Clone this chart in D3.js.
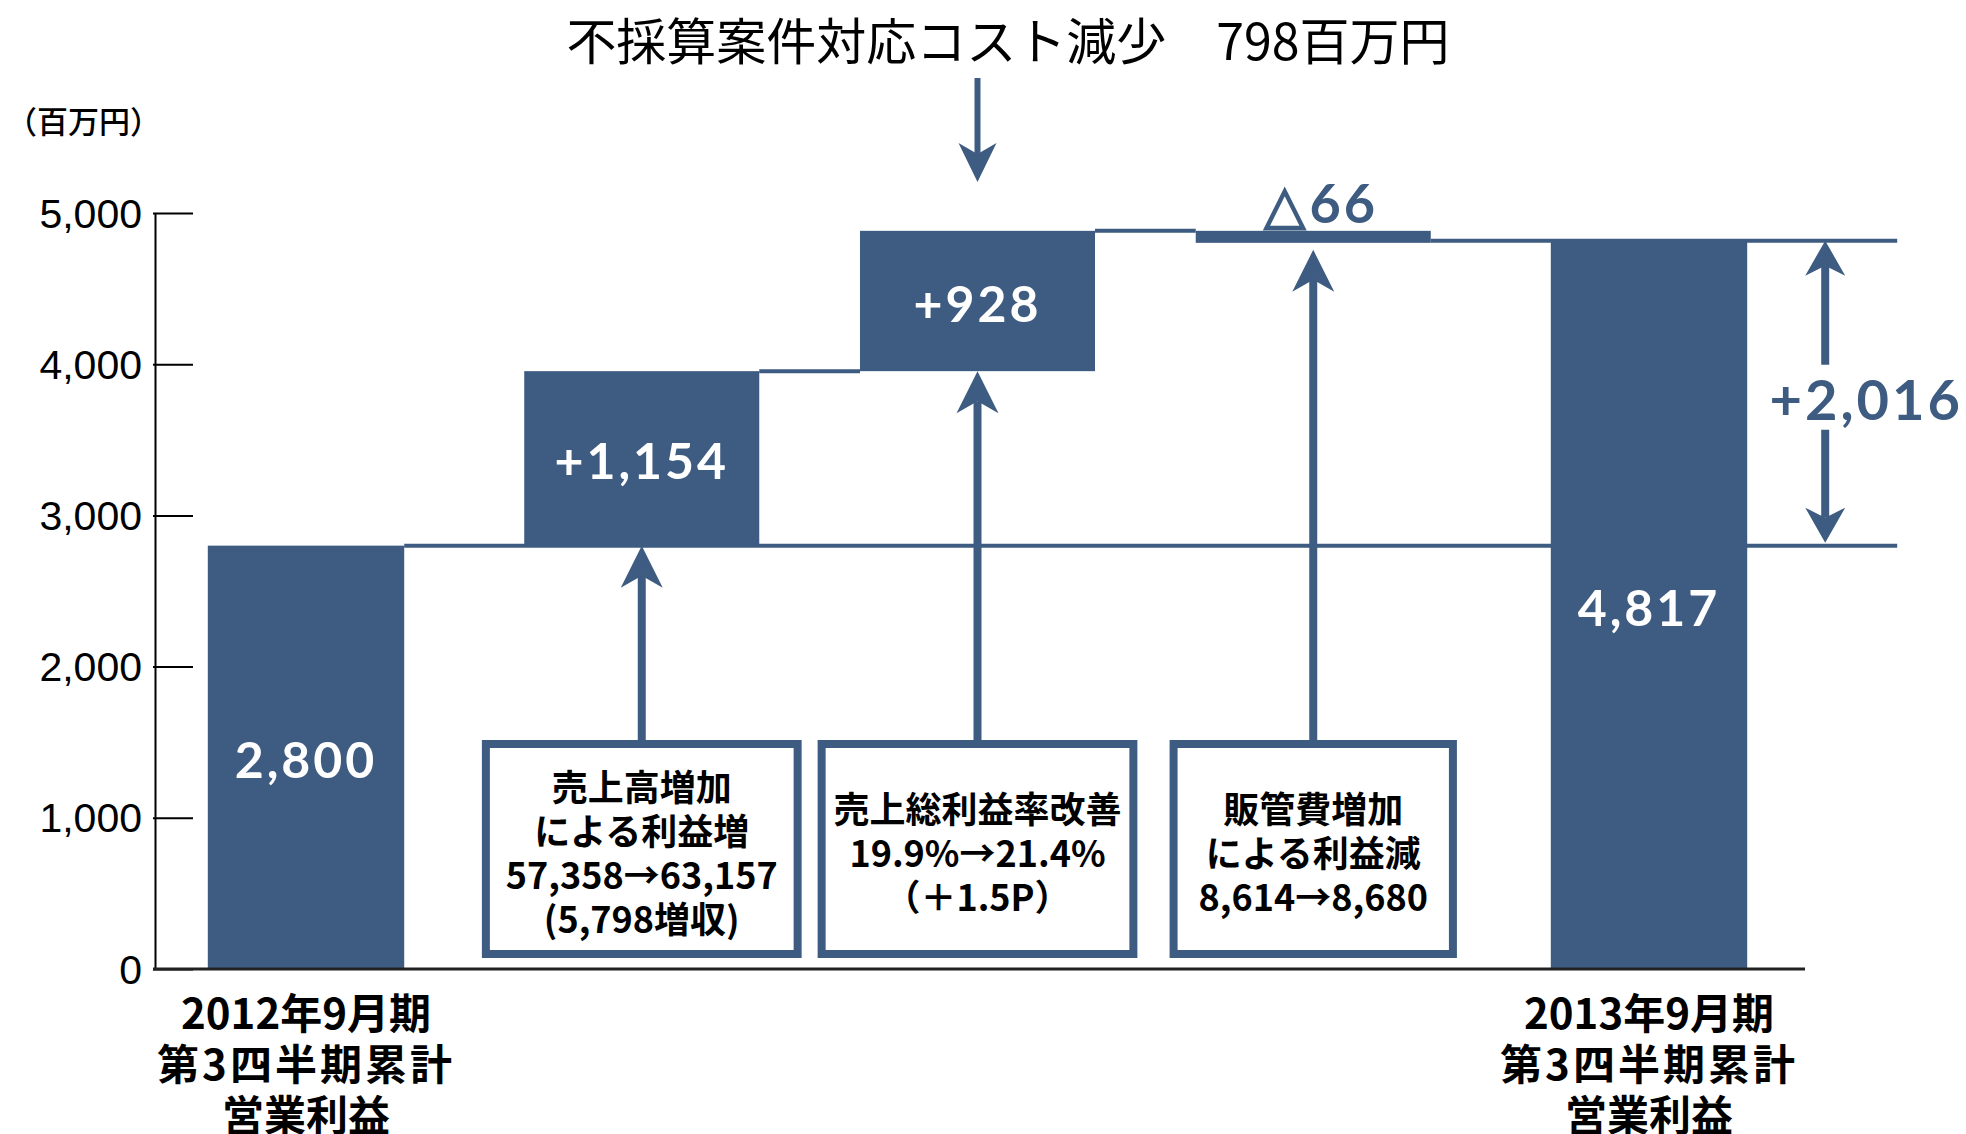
<!DOCTYPE html>
<html>
<head>
<meta charset="utf-8">
<script src="https://cdn.jsdelivr.net/npm/d3@7"></script>
<style>
  html,body { margin:0; padding:0; background:#fff; }
  svg { display:block; }
</style>
</head>
<body>
<svg id="chart" width="1966" height="1134"></svg>
<script>

// ---- data ----
const categories  = ['2012Q3', 'sales', 'margin', 'sga', '2013Q3'];
const values      = [2800, 1154, 928, -66, 4817];   // first and last are totals
const isTotal     = [true, false, false, false, true];
const barLabels   = ['2,800', '+1,154', '+928', '△66', '4,817'];
const totalLabels = [
  ['2012年9月期', '第3四半期累計', '営業利益'],
  null, null, null,
  ['2013年9月期', '第3四半期累計', '営業利益']
];
const reasonLines = [
  null,
  ['売上高増加', 'による利益増', '57,358→63,157', '(5,798増収)'],
  ['売上総利益率改善', '19.9%→21.4%', '（＋1.5P）'],
  ['販管費増加', 'による利益減', '8,614→8,680'],
  null
];
const yTicks    = [0, 1000, 2000, 3000, 4000, 5000];
const unitLabel = '（百万円）';
const topNote   = '不採算案件対応コスト減少　798百万円';
const diffLabel = '+2,016';

// ---- layout ----
const BLUE = '#3e5c81';
const JP = '"Noto Sans CJK JP", "Noto Sans", sans-serif';
const NUM = 'Lato, "Open Sans", sans-serif';

const svg = d3.select('#chart');

const y = d3.scaleLinear().domain([0, 5000]).range([969, 213]);
const x = d3.scalePoint().domain(categories).range([306, 1649]);
const step = x.step();

// running start / end for each bar
let run = 0;
const bars = categories.map((c, i) => {
  let s, e;
  if (isTotal[i]) { s = 0; e = values[i]; }
  else { s = run; e = run + values[i]; }
  run = e;
  const w = isTotal[i] ? step * 0.585 : step * 0.70;
  return { cat: c, i: i, start: s, end: e, w: w, cx: x(c) };
});

const upHead = (cx, tip, w, len, notch) =>
  `M${cx},${tip} L${cx + w / 2},${tip + len} L${cx},${tip + notch} L${cx - w / 2},${tip + len} Z`;
const downHead = (cx, tip, w, len, notch) =>
  `M${cx},${tip} L${cx + w / 2},${tip - len} L${cx},${tip - notch} L${cx - w / 2},${tip - len} Z`;

const lines = svg.append('g');
const first = bars[0], last = bars[bars.length - 1];
const refRight = last.cx + last.w / 2 + 150;

// level lines behind the bars
lines.append('line')
  .attr('x1', first.cx + first.w / 2).attr('x2', refRight)
  .attr('y1', y(first.end)).attr('y2', y(first.end))
  .attr('stroke', BLUE).attr('stroke-width', 4);
lines.append('line')
  .attr('x1', bars[3].cx + bars[3].w / 2).attr('x2', refRight)
  .attr('y1', y(last.end)).attr('y2', y(last.end))
  .attr('stroke', BLUE).attr('stroke-width', 4);

// step connectors
lines.selectAll('line.conn').data(bars.slice(1, 3))
  .join('line').attr('class', 'conn')
  .attr('x1', d => d.cx + d.w / 2)
  .attr('x2', d => bars[d.i + 1].cx - bars[d.i + 1].w / 2)
  .attr('y1', d => y(d.end)).attr('y2', d => y(d.end))
  .attr('stroke', BLUE).attr('stroke-width', 4);

// bars
svg.append('g').selectAll('rect').data(bars)
  .join('rect')
  .attr('x', d => d.cx - d.w / 2)
  .attr('width', d => d.w)
  .attr('y', d => y(Math.max(d.start, d.end)))
  .attr('height', d => Math.max(Math.abs(y(d.start) - y(d.end)), 12))
  .attr('fill', BLUE);

// bar labels
svg.append('g').selectAll('text').data(bars)
  .join('text')
  .attr('x', d => d.end < d.start ? d.cx + 8 : d.cx)
  .attr('y', d => d.end < d.start ? y(d.start) - 28 : (y(d.start) + y(d.end)) / 2 + 2)
  .attr('text-anchor', 'middle')
  .attr('dominant-baseline', 'central')
  .attr('font-family', NUM)
  .attr('font-weight', 700)
  .attr('font-size', d => d.end < d.start ? 54 : 50)
  .attr('letter-spacing', 3)
  .attr('fill', d => d.end < d.start ? BLUE : '#fff')
  .text(d => barLabels[d.i]);

// y axis
const axis = svg.append('g')
  .attr('transform', 'translate(155,0)')
  .call(d3.axisLeft(y).tickValues(yTicks).tickFormat(d3.format(','))
    .tickSizeInner(-38).tickSizeOuter(0).tickPadding(13));
axis.select('.domain').attr('stroke', '#000').attr('stroke-width', 2);
axis.selectAll('.tick line').attr('stroke', '#000').attr('stroke-width', 2).attr('x1', -2);
axis.selectAll('.tick text')
  .attr('font-family', '"Liberation Sans", Arial, sans-serif')
  .attr('font-size', 41).attr('fill', '#000')
  .attr('dy', null).attr('dominant-baseline', 'central');

// baseline
svg.append('line')
  .attr('x1', 153).attr('x2', 1805)
  .attr('y1', y(0)).attr('y2', y(0))
  .attr('stroke', '#222').attr('stroke-width', 3);

svg.append('text')
  .attr('x', 6).attr('y', 119)
  .attr('dominant-baseline', 'central')
  .attr('font-family', JP).attr('font-weight', 500).attr('font-size', 31)
  .text(unitLabel);

// multi-line text as one element with tspans
function block(sel, cx, y0, lineH, rows, spacing) {
  const t = sel.append('text')
    .attr('text-anchor', 'middle')
    .attr('fill', '#000');
  t.selectAll('tspan').data(rows).join('tspan')
    .attr('x', cx)
    .attr('y', (s, k) => y0 + k * lineH)
    .attr('dominant-baseline', 'central')
    .attr('letter-spacing', (s, k) => spacing ? spacing(k) : 0)
    .text(s => s);
  return t;
}

// reason boxes + arrows
const boxTop = 740, boxBot = 958, lineH = 44;
const reasons = bars.filter(d => reasonLines[d.i]);
const rg = svg.append('g').selectAll('g').data(reasons).join('g');

rg.each(function(d) {
  const g = d3.select(this);
  const txt = reasonLines[d.i];
  const mid = (boxTop + boxBot) / 2 + 2;
  const t = block(g, d.cx, mid - (txt.length - 1) / 2 * lineH, lineH, txt)
    .attr('font-family', JP).attr('font-weight', 700).attr('font-size', 36);
  let tw = 0;
  t.selectAll('tspan').each(function() { tw = Math.max(tw, this.getComputedTextLength()); });
  const bw = Math.min(tw + 58, step - 16);
  g.insert('rect', 'text')
    .attr('x', d.cx - bw / 2 + 4).attr('y', boxTop + 4)
    .attr('width', bw - 8).attr('height', boxBot - boxTop - 8)
    .attr('fill', '#fff').attr('stroke', BLUE).attr('stroke-width', 8);

  const tip = d.end < d.start ? y(d.start) + 19 : y(d.start);
  g.append('line')
    .attr('x1', d.cx).attr('x2', d.cx)
    .attr('y1', boxTop).attr('y2', tip + 30)
    .attr('stroke', BLUE).attr('stroke-width', 8);
  g.append('path').attr('d', upHead(d.cx, tip, 42, 42, 30)).attr('fill', BLUE);
});

// top note and its arrow
svg.append('text')
  .attr('x', 1008).attr('y', 38)
  .attr('text-anchor', 'middle')
  .attr('dominant-baseline', 'central')
  .attr('font-family', JP).attr('font-size', 50)
  .attr('fill', '#000')
  .text(topNote);
const mcx = x('margin');
svg.append('line')
  .attr('x1', mcx).attr('x2', mcx).attr('y1', 78).attr('y2', 182 - 28)
  .attr('stroke', BLUE).attr('stroke-width', 6);
svg.append('path').attr('d', downHead(mcx, 182, 38, 39, 28)).attr('fill', BLUE);

// total difference arrow on the right
const ax = last.cx + last.w / 2 + 78;
const yTop = y(last.end), yBot = y(first.end) - 3;
const ymid = (yTop + yBot) / 2 + 5;
svg.append('line')
  .attr('x1', ax).attr('x2', ax).attr('y1', yTop + 25).attr('y2', ymid - 32)
  .attr('stroke', BLUE).attr('stroke-width', 8);
svg.append('line')
  .attr('x1', ax).attr('x2', ax).attr('y1', ymid + 33).attr('y2', yBot - 25)
  .attr('stroke', BLUE).attr('stroke-width', 8);
svg.append('path').attr('d', upHead(ax, yTop, 40, 35, 25)).attr('fill', BLUE);
svg.append('path').attr('d', downHead(ax, yBot, 40, 35, 25)).attr('fill', BLUE);
svg.append('text')
  .attr('x', ax + 41).attr('y', ymid + 2)
  .attr('text-anchor', 'middle')
  .attr('dominant-baseline', 'central')
  .attr('font-family', NUM).attr('font-weight', 700).attr('font-size', 56)
  .attr('letter-spacing', 3)
  .attr('fill', BLUE)
  .text(diffLabel);

// category labels under totals
const tg = svg.append('g');
bars.filter(d => totalLabels[d.i]).forEach(d => {
  block(tg, d.cx, y(0) + 41, 51, totalLabels[d.i], k => k === 1 ? 3 : 0)
    .attr('font-family', JP).attr('font-weight', 700).attr('font-size', 42);
});

</script>
</body>
</html>
